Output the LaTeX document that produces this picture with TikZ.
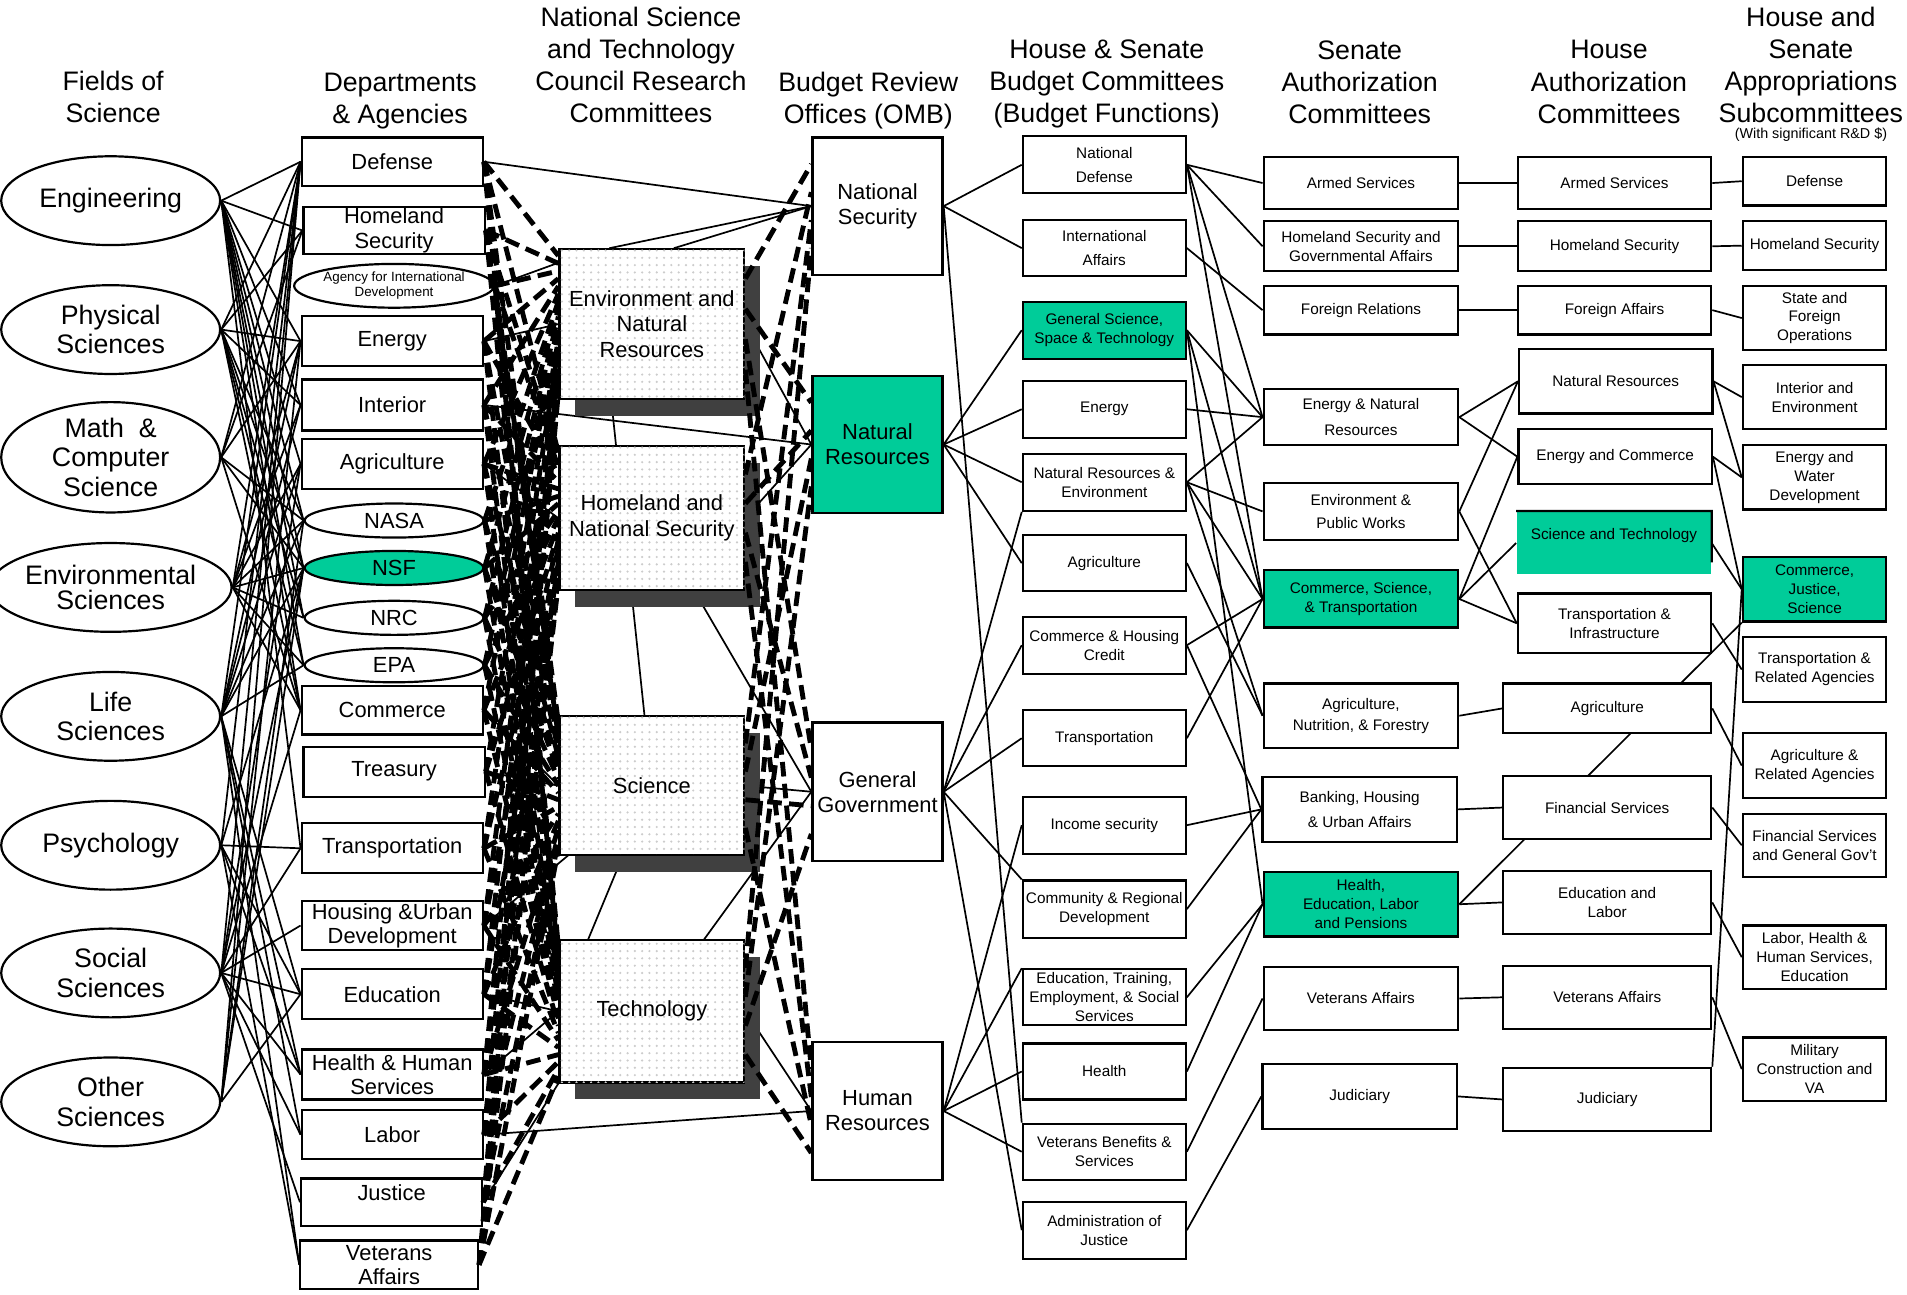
\documentclass[tikz,border=0pt]{standalone}
\usepackage{fontspec}
\setmainfont{Liberation Sans}
\usetikzlibrary{shapes.geometric,patterns,shadows,backgrounds,calc}
\definecolor{tealgreen}{RGB}{0,204,153}
\definecolor{shadowgray}{RGB}{64,64,64}
\tikzset{x=0.5pt, y=-0.5pt, % one unit is one pixel of the sketch, y runs down
        header/.style={align=center, inner sep=0pt,
            font=\fontsize{11}{13.25}\selectfont},
        field/.style={ % Fields of science
            ellipse, draw, line width=0.9pt, fill=white,
            minimum width=90pt, minimum height=36.5pt, inner sep=0pt,
            align=center, font=\fontsize{11}{12}\selectfont},
        dept/.style={ % Departments and agencies
            rectangle, draw, line width=0.9pt, fill=white,
            minimum width=74.5pt, inner sep=0pt,
            align=center, font=\fontsize{9}{10}\selectfont},
        deptoval/.style={dept, ellipse, minimum width=73.5pt, minimum height=14pt},
        nstc/.style={ % Council committees, dotted with a shadow
            rectangle, draw, line width=0.9pt, fill=white,
            minimum width=76pt, inner sep=0pt,
            align=center, font=\fontsize{9}{10.5}\selectfont,
            postaction={pattern=dots, pattern color=black!20},
            drop shadow={shadow xshift=6.5pt, shadow yshift=-7pt, fill=shadowgray, opacity=1}},
        omb/.style={rectangle, draw, line width=0.9pt, fill=white,
            minimum width=53.5pt, inner sep=0pt,
            align=center, font=\fontsize{9}{10.25}\selectfont},
        commbox/.style={rectangle, draw, line width=0.9pt, fill=white, inner sep=0pt,
            align=center, font=\fontsize{6.3}{7.8}\selectfont},
        func/.style={commbox, minimum width=67pt},
        senate/.style={commbox, minimum width=80pt},
        house/.style={commbox, minimum width=79.5pt},
        approp/.style={commbox, minimum width=59pt},
        hilite/.style={fill=tealgreen},
        link/.style={line width=0.7pt},
        dashlink/.style={line width=2pt, dash pattern=on 6pt off 3pt}
        }
\begin{document}
\begin{tikzpicture}
    \useasboundingbox (0,0) rectangle (1568,1064);

    % column headings
    \node[header] (hfields) at (93,80) {Fields of\\Science};
    \node[header] (hdepts) at (329,83) {Departments\\\& Agencies};
    \node[header] (hnstc) at (527,53.5) {National Science\\and Technology\\Council Research\\Committees};
    \node[header] (homb) at (714,83) {Budget Review\\Offices (OMB)};
    \node[header] (hbudget) at (910,69) {House \& Senate\\Budget Committees\\(Budget Functions)};
    \node[header] (hsenate) at (1118,67.5) {Senate\\Authorization\\Committees};
    \node[header] (hhouse) at (1323,67.5) {House\\Authorization\\Committees};
    \node[header] (happrop) at (1489,53.5) {House and\\Senate\\Appropriations\\Subcommittees};
    \node[inner sep=0pt, font=\fontsize{5.9}{7}\selectfont] (hnote) at (1489,111) {(With significant R\&D \$)};

    % fields of science
    \node[field] (eng) at (91,165) {Engineering};
    \node[field] (phys) at (91,271) {Physical\\Sciences};
    \node[field] (math) at (91,376) {Math\ \ \&\\Computer\\Science};
    \node[field, font=\fontsize{11}{10}\selectfont] (envsci) at (91,483) {Environmental\\Sciences};
    \node[field] (life) at (91,589) {Life\\Sciences};
    \node[field] (psych) at (91,695) {Psychology};
    \node[field] (social) at (91,800) {Social\\Sciences};
    \node[field] (other) at (91,906) {Other\\Sciences};

    % departments and agencies
    \node[dept, minimum height=20pt] (defense) at (322.5,133) {Defense};
    \node[dept, minimum height=19.5pt] (homeland) at (324,189.5) {Homeland\\Security};
    \node[deptoval, minimum height=18pt, font=\fontsize{5.5}{6.3}\selectfont] (aid) at (324,235) {Agency for International\\Development};
    \node[dept, minimum height=20.5pt] (energy) at (322.5,280.5) {Energy};
    \node[dept, minimum height=21pt] (interior) at (322.5,333) {Interior};
    \node[dept, minimum height=20.5pt] (agriculture) at (322.5,381.5) {Agriculture};
    \node[deptoval] (nasa) at (324,428) {NASA};
    \node[deptoval, hilite] (nsf) at (324,467) {NSF};
    \node[deptoval] (nrc) at (324,508) {NRC};
    \node[deptoval] (epa) at (324,547) {EPA};
    \node[dept, minimum height=20pt] (commerce) at (322.5,584) {Commerce};
    \node[dept, minimum height=20.5pt] (treasury) at (324,634.5) {Treasury};
    \node[dept, minimum height=20.5pt] (transportation) at (322.5,697.5) {Transportation};
    \node[dept, minimum height=20pt] (hud) at (322.5,761) {Housing \&Urban\\Development};
    \node[dept, minimum height=20.5pt] (education) at (322.5,817.5) {Education};
    \node[dept, minimum height=20.5pt] (hhsdept) at (322.5,883.5) {Health \& Human\\Services};
    \node[dept, minimum height=20pt] (labor) at (322.5,933) {Labor};
    \node[dept, minimum height=19.5pt] (justice) at (322,988.5) {Justice\\[-2pt]\mbox{}};
    \node[dept, minimum height=20pt, minimum width=73pt] (veterans) at (320,1040) {Veterans\\Affairs};

    % council research committees
    \node[nstc, minimum height=61.5pt] (env) at (536,266.5) {Environment and\\Natural\\Resources};
    \node[nstc, minimum height=59pt] (hns) at (536,426) {Homeland and\\National Security};
    \node[nstc, minimum height=57pt] (sci) at (536,646) {Science};
    \node[nstc, minimum height=58.5pt] (tech) at (536,831.5) {Technology};

    % budget review offices
    \node[omb, minimum height=56.5pt] (natsec) at (721.5,169.5) {National\\Security};
    \node[omb, hilite, minimum height=56.5pt] (natres) at (721.5,365.5) {Natural\\Resources};
    \node[omb, minimum height=57pt] (gengov) at (721.5,651) {General\\Government};
    \node[omb, minimum height=56.5pt] (humres) at (721.5,913.5) {Human\\Resources};

    % budget functions
    \node[func, minimum height=23.5pt] (nd) at (908,135.5) {National\\[2pt]Defense};
    \node[func, minimum height=23pt] (ia) at (908,204) {International\\[2pt]Affairs};
    \node[func, hilite, minimum height=23.5pt] (gsst) at (908,271.5) {General Science,\\Space \& Technology};
    \node[func, minimum height=23.5pt] (benergy) at (908,336.5) {Energy};
    \node[func, minimum height=23.5pt] (nre) at (908,396.5) {Natural Resources \&\\Environment};
    \node[func, minimum height=23pt] (bagri) at (908,463) {Agriculture};
    \node[func, minimum height=23.5pt] (chc) at (908,530.5) {Commerce \& Housing\\Credit};
    \node[func, minimum height=23pt] (btrans) at (908,607) {Transportation};
    \node[func, minimum height=23.5pt] (income) at (908,678.5) {Income security};
    \node[func, minimum height=23.5pt] (crd) at (908,747.5) {Community \& Regional\\Development};
    \node[func, minimum height=23pt] (ets) at (908,820) {Education, Training,\\Employment, \& Social\\Services};
    \node[func, minimum height=23pt] (health) at (908,881) {Health};
    \node[func, minimum height=23pt] (vbs) at (908,947) {Veterans Benefits \&\\Services};
    \node[func, minimum height=23.5pt] (aoj) at (908,1011.5) {Administration of\\Justice};

    % senate authorization committees
    \node[senate, minimum height=21.5pt] (sarmed) at (1119,150.5) {Armed Services};
    \node[senate, minimum height=20.5pt] (shomeland) at (1119,202.5) {Homeland Security and\\Governmental Affairs};
    \node[senate, minimum height=20pt] (sfr) at (1119,255) {Foreign Relations};
    \node[senate, minimum height=23pt] (senr) at (1119,343) {Energy \& Natural\\[2.6pt]Resources};
    \node[senate, minimum height=23.5pt] (sepw) at (1119,420.5) {Environment \&\\[1.6pt]Public Works};
    \node[senate, hilite, minimum height=23.5pt] (scst) at (1119,492.5) {Commerce, Science,\\\& Transportation};
    \node[senate, minimum height=26.5pt] (sagri) at (1119,588.5) {Agriculture,\\[0.7pt]Nutrition, \& Forestry};
    \node[senate, minimum height=26.5pt] (sbank) at (1118,665.5) {Banking, Housing\\[2.6pt]\& Urban Affairs};
    \node[senate, hilite, minimum height=26.5pt] (shelp) at (1119,743.5) {Health,\\Education, Labor\\and Pensions};
    \node[senate, minimum height=26pt] (sva) at (1119,821) {Veterans Affairs};
    \node[senate, minimum height=26.5pt] (sjud) at (1118,901.5) {Judiciary};

    % house authorization committees
    \node[house, minimum height=21.5pt] (harmed) at (1327.5,150.5) {Armed Services};
    \node[house, minimum height=20.5pt] (hhomeland) at (1327.5,202.5) {Homeland Security};
    \node[house, minimum height=20pt] (hfa) at (1327.5,255) {Foreign Affairs};
    \node[house, minimum height=26.5pt] (hnr) at (1328.5,313.5) {Natural Resources};
    \node[house, minimum height=22.5pt] (hec) at (1328,375.5) {Energy and Commerce};
    \node[house, hilite, draw=none, minimum height=25.5pt] (hst) at (1327,446.5) {Science and Technology\\\mbox{}};
    \draw[line width=0.9pt] (hst.north west) -- (hst.north east) -- ($(hst.north east)!0.8!(hst.south east)$);
    \node[house, minimum height=24.5pt] (hti) at (1327.5,512.5) {Transportation \&\\Infrastructure};
    \node[house, minimum width=85.5pt, minimum height=20.5pt] (hagri) at (1321.5,582.5) {Agriculture};
    \node[house, minimum width=85.5pt, minimum height=26pt] (hfs) at (1321.5,664) {Financial Services};
    \node[house, minimum width=85.5pt, minimum height=26pt] (hel) at (1321.5,742) {Education and\\Labor};
    \node[house, minimum width=85.5pt, minimum height=26pt] (hva) at (1321.5,820) {Veterans Affairs};
    \node[house, minimum width=85.5pt, minimum height=26pt] (hjud) at (1321.5,904) {Judiciary};

    % appropriations subcommittees
    \node[approp, minimum height=20pt] (adef) at (1492,149) {Defense};
    \node[approp, minimum height=20pt] (ahomeland) at (1492,202) {Homeland Security};
    \node[approp, minimum height=26.5pt] (asfo) at (1492,261.5) {State and\\Foreign\\Operations};
    \node[approp, minimum height=26.5pt] (aie) at (1492,326.5) {Interior and\\Environment};
    \node[approp, minimum height=26.5pt] (aew) at (1492,392.5) {Energy and\\Water\\Development};
    \node[approp, hilite, minimum height=26.5pt] (acjs) at (1492,484.5) {Commerce,\\Justice,\\Science};
    \node[approp, minimum height=26.5pt] (atra) at (1492,550.5) {Transportation \&\\Related Agencies};
    \node[approp, minimum height=26.5pt] (aagr) at (1492,629.5) {Agriculture \&\\Related Agencies};
    \node[approp, minimum height=26pt] (afsg) at (1492,695) {Financial Services\\and General Gov't};
    \node[approp, minimum height=26pt] (alhhs) at (1492,787) {Labor, Health \&\\Human Services,\\Education};
    \node[approp, minimum height=26pt] (amil) at (1492,879) {Military\\Construction and\\VA};

    % agencies to council committees, committees to review offices
    \foreach \d [count=\i] in {defense,homeland,aid,energy,interior,agriculture,nasa,nsf,nrc,epa,commerce,treasury,transportation,hud,education,hhsdept,labor,justice,veterans}
        \foreach \c in {env,hns,sci,tech}
            \draw[dashlink] (\d.east) -- ($(\c.north west)!{\i/20}!(\c.south west)$);
    \foreach \c [count=\j] in {env,hns,sci,tech}
        \foreach \o [count=\k] in {natsec,natres,gengov,humres}
            \draw[dashlink] ($(\c.north east)!{\k/5}!(\c.south east)$) -- ($(\o.north west)!{\j/5}!(\o.south west)$);

    \begin{scope}[on background layer]
    \draw[link]
        (eng.east)
            edge (defense.west) edge (homeland.west) edge (energy.west) edge (interior.west)
            edge (agriculture.west) edge (nasa.west) edge (nsf.west) edge (nrc.west)
            edge (epa.west) edge (commerce.west) edge (transportation.west)
        (phys.east)
            edge (defense.west) edge (homeland.west) edge (energy.west) edge (interior.west)
            edge (nasa.west) edge (nsf.west) edge (nrc.west) edge (epa.west) edge (commerce.west)
        (math.east)
            edge (defense.west) edge (homeland.west) edge (energy.west) edge (nasa.west)
            edge (nsf.west) edge (commerce.west)
        (envsci.east)
            edge (defense.west) edge (energy.west) edge (interior.west) edge (agriculture.west)
            edge (nasa.west) edge (nsf.west) edge (nrc.west) edge (epa.west) edge (commerce.west)
        (life.east)
            edge (defense.west) edge (energy.west) edge (interior.west) edge (agriculture.west)
            edge (nasa.west) edge (nsf.west) edge (epa.west) edge (education.west)
            edge (hhsdept.west) edge (labor.west) edge (veterans.west)
        (psych.east)
            edge (defense.west) edge (nsf.west) edge (transportation.west) edge (education.west)
            edge (hhsdept.west) edge (veterans.west)
        (social.east)
            edge (defense.west) edge (nsf.west) edge (agriculture.west) edge (commerce.west)
            edge (transportation.west) edge (hud.west) edge (education.west)
            edge (hhsdept.west) edge (labor.west) edge (justice.west)
        (other.east)
            edge (defense.west) edge (energy.west) edge (nasa.west) edge (nsf.west)
            edge (education.west);

    \draw[link]
        (defense.east) edge (natsec.west)
        (aid.east) edge ($(env.north west)+(0,12)$)
        (energy.east) edge (env.west)
        (interior.east) edge (natres.west)
        (agriculture.east) edge (hns.west)
        (commerce.east) edge (sci.west)
        (treasury.east) edge (sci.west)
        (hud.east) edge (sci.center)
        (education.east) edge (tech.west)
        (hhsdept.east) edge (tech.west)
        (justice.east) edge (tech.south west)
        (labor.east) edge (humres.west)
        (natsec.west)
            edge ($(env.north)+(-35,0)$)
            edge ($(env.north)+(18,0)$)
        ($(env.center)+(-40,0)$) edge (sci.center)
        (hns.center) edge (gengov.west)
        (env.east) edge (natres.west)
        (hns.east) edge (natres.west)
        (sci.center) edge (tech.west)
        (tech.center) edge (gengov.west)
        (sci.east) edge (gengov.west)
        (tech.east) edge (humres.west);

    % review offices to budget functions
    \draw[link]
        (natsec.east) edge (nd.west) edge (ia.west) edge (vbs.north west)
        (natres.east) edge (gsst.west) edge (benergy.west) edge (nre.west) edge (bagri.west)
        (gengov.east) edge (nre.south west) edge (chc.west) edge (btrans.west)
            edge (crd.north west) edge (aoj.west)
        (humres.east) edge (income.west) edge (ets.north west) edge (health.west) edge (vbs.west);

    % budget functions to senate committees
    \draw[link]
        (nd.east) edge (sarmed.west) edge (shomeland.west) edge (senr.west) edge (scst.west)
        (ia.east) edge (sfr.west)
        (gsst.east) edge (senr.west) edge (scst.west) edge (shelp.west)
        (benergy.east) edge (senr.west)
        (nre.east) edge (senr.west) edge (sepw.west) edge (scst.west) edge (sagri.west)
        (bagri.east) edge (sagri.west)
        (chc.east) edge (scst.west) edge (sbank.west)
        (btrans.east) edge (scst.west)
        (income.east) edge (sbank.west)
        (crd.east) edge (sbank.west)
        (ets.east) edge (shelp.west)
        (health.east) edge (shelp.west)
        (vbs.east) edge (sva.west)
        (aoj.east) edge (sjud.west);

    % senate to house committees
    \draw[link]
        (sarmed.east) edge (harmed.west)
        (shomeland.east) edge (hhomeland.west)
        (sfr.east) edge (hfa.west)
        (senr.east) edge (hnr.west) edge (hec.west)
        (sepw.east) edge (hnr.west) edge (hti.west)
        (scst.east) edge (hec.west) edge (hst.west) edge (hti.west)
        (sagri.east) edge (hagri.west)
        (sbank.east) edge (hfs.west)
        (shelp.east) edge (hel.west) edge (acjs.south west)
        (sva.east) edge (hva.west)
        (sjud.east) edge (hjud.west);

    % house committees to appropriations subcommittees
    \draw[link]
        (harmed.east) edge (adef.west)
        (hhomeland.east) edge (ahomeland.west)
        (hfa.east) edge (asfo.west)
        (hnr.east) edge (aie.west) edge (aew.west)
        (hec.east) edge (aew.west) edge (acjs.west)
        (hst.east) edge (acjs.west)
        (hti.east) edge (atra.west)
        (hagri.east) edge (aagr.west)
        (hfs.east) edge (afsg.west)
        (hel.east) edge (alhhs.west)
        (hva.east) edge (amil.west)
        (hjud.north east) edge (acjs.west);
    \end{scope}
\end{tikzpicture}
\end{document}
